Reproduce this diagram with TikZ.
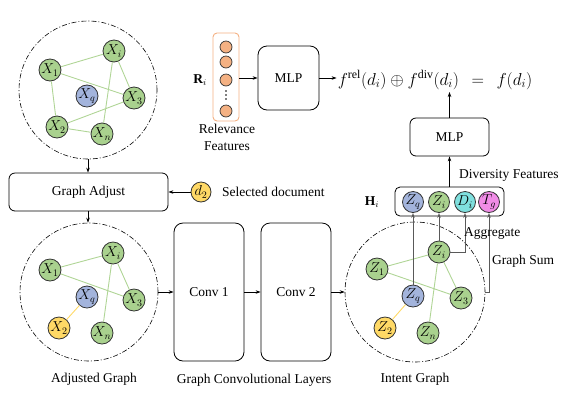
\documentclass[tikz,border=0pt]{standalone}
\usepackage{fontspec}
\setmainfont{Liberation Serif}
\usetikzlibrary{arrows.meta}
\definecolor{ngreen}{HTML}{A9D18E}
\definecolor{nblue}{HTML}{A3B4DC}
\definecolor{nyellow}{HTML}{FFD966}
\definecolor{ncyan}{HTML}{7FE0DE}
\definecolor{npink}{HTML}{F08CE6}
\definecolor{norange}{HTML}{F4B183}
\definecolor{lorange}{HTML}{F4B183}
\definecolor{egreen}{HTML}{B0D596}
\definecolor{eyellow}{HTML}{FFD966}
\definecolor{ngray}{HTML}{595959}
\begin{document}
\begin{tikzpicture}[x=1pt,y=-1pt,font=\fontsize{13.5}{16}\selectfont,
  gn/.style={circle,draw=black!80,line width=0.8pt,minimum size=22pt,inner sep=0pt,fill=ngreen,font=\fontsize{14}{16}\selectfont},
  qn/.style={gn,fill=nblue},
  yn/.style={gn,fill=nyellow},
  hn/.style={gn,minimum size=21pt},
  gedge/.style={draw=egreen,line width=0.9pt},
  yedge/.style={draw=eyellow,line width=0.9pt},
  arr/.style={-{Stealth[length=5pt,width=3.5pt]},line width=0.7pt},
  garr/.style={-{Stealth[length=5pt,width=3.5pt]},draw=ngray,line width=0.9pt},
  dcirc/.style={circle,draw,dash pattern=on 5pt off 2pt on 1pt off 2pt,line width=0.6pt,minimum size=138pt,inner sep=0pt},
  boxn/.style={draw,rounded corners=7pt,line width=0.8pt,inner sep=0pt},
  lab/.style={inner sep=1pt}]
\useasboundingbox (0,0) rectangle (588,400);

% ---------- top-left graph ----------
\node[dcirc] (g1) at (88,90) {};
\node[gn] (a1) at (50,70) {$X_1$};
\node[gn] (ai) at (114,51) {$X_i$};
\node[qn] (aq) at (87,96) {$X_q$};
\node[gn] (a3) at (134,98) {$X_3$};
\node[gn] (a2) at (57,127) {$X_2$};
\node[gn] (an) at (102,134) {$X_n$};
\path[gedge] (a1) -- (ai) (a1) -- (a3) (a1) -- (a2) (ai) -- (a3) (ai) -- (an) (a2) -- (a3) (a2) -- (an);

% ---------- graph adjust ----------
\node[boxn,rounded corners=6pt,minimum width=159pt,minimum height=38pt] (adj) at (88.5,192) {Graph Adjust};
\draw[arr] (g1.south) -- (adj.north -| g1.south);
\node[yn,minimum size=20pt] (d2) at (201,192) {$d_2$};
\draw[arr] (d2) -- (adj.east);
\node[lab,anchor=west] (sel) at (221,192) {Selected document};

% ---------- adjusted graph ----------
\node[dcirc] (g2) at (89,292) {};
\draw[arr] (adj.south -| g1.south) -- (g2.north -| g1.south);
\node[gn] (b1) at (50,270) {$X_1$};
\node[gn] (bi) at (113,253) {$X_i$};
\node[qn] (bq) at (87,297) {$X_q$};
\node[gn] (b3) at (134,300) {$X_3$};
\node[yn] (b2) at (59,328) {$X_2$};
\node[gn] (bn) at (102,333) {$X_n$};
\path[gedge] (b1) -- (bi) (b1) -- (b3) (bi) -- (b3) (bi) -- (bn);
\path[yedge] (bq) -- (b2);
\node[lab] (l1) at (94,379) {Adjusted Graph};

% ---------- conv layers ----------
\node[boxn,rounded corners=9pt,minimum width=70pt,minimum height=138pt] (c1) at (209,292) {Conv 1};
\node[boxn,rounded corners=9pt,minimum width=70pt,minimum height=138pt] (c2) at (296,292) {Conv 2};
\node[lab] (l2) at (254,380) {Graph Convolutional Layers};
\draw[arr] (g2.east) -- (c1.west);
\draw[arr] (c1.east) -- (c2.west);

% ---------- intent graph ----------
\node[dcirc,minimum size=140pt] (g3) at (415,292) {};
\draw[arr] (c2.east) -- (g3.west);
\node[gn] (z1) at (377,269) {$Z_1$};
\node[gn] (zi) at (439,252) {$Z_i$};
\node[qn] (zq) at (413,296) {$Z_q$};
\node[gn] (z3) at (461,298) {$Z_3$};
\node[yn] (z2) at (385,328) {$Z_2$};
\node[gn] (zn) at (428,333) {$Z_n$};
\path[gedge] (z1) -- (zi) (z1) -- (z3) (zi) -- (z3) (zi) -- (zn);
\path[yedge] (zq) -- (z2);
\node[lab] (l3) at (415,379) {Intent Graph};

% ---------- H_i ----------
\node[boxn,rounded corners=5pt,minimum width=109pt,minimum height=29pt] (H) at (449.5,201.5) {};
\node[hn,fill=nblue] (hq) at (413,202) {$Z_q$};
\node[hn] (hi) at (439,202) {$Z_i$};
\node[hn,fill=ncyan] (hd) at (465,202) {$D_i$};
\node[hn,fill=npink] (ht) at (489,202) {$T_g$};
\node[lab] (hl) at (372,202) {$\mathbf{H}_i$};
\draw[garr] (zq.north) -- (hq.south);
\draw[garr] (zi.north) -- (hi.south);
\draw[garr] (zi.east) -| (hd.south);
\draw[garr] (g3.east) -| (ht.south);
\node[lab,anchor=west] (agg) at (463,233) {Aggregate};
\node[lab,anchor=west] (gs) at (491,261) {Graph Sum};

% ---------- diversity MLP ----------
\node[boxn,rounded corners=6pt,minimum width=79pt,minimum height=38pt] (m2) at (449.5,137) {MLP};
\draw[arr] (H.north) -- (m2.south);
\node[lab,anchor=west] (df) at (458,175) {Diversity Features};
\node[inner sep=1pt,font=\fontsize{17}{20}\selectfont] (F) at (435,80) {$f^{\mathrm{rel}}(d_i)\oplus f^{\mathrm{div}}(d_i)\;\,=\;\,f(d_i)$};
\coordinate (Fin) at (449.5,92);
\draw[arr] (m2.north) -- (Fin);

% ---------- relevance ----------
\node[draw=lorange,line width=0.9pt,rounded corners=4pt,minimum width=26pt,minimum height=88pt,inner sep=0pt] (rb) at (226,77) {};
\foreach \n/\y in {r1/47,r2/62,r3/80,r4/111}
  \node[circle,draw=black!80,line width=0.7pt,fill=norange,minimum size=12pt,inner sep=0pt] (\n) at (226,\y) {};
\foreach \y in {91,95,99}
  \fill (226,\y) circle (0.9pt);
\node[lab] (rl) at (200,80) {$\mathbf{R}_i$};
\node[lab,align=center] (rf) at (227,137) {Relevance\\[1pt]Features};
\node[boxn,rounded corners=9pt,minimum width=61pt,minimum height=64pt] (m1) at (288.5,78) {MLP};
\draw[arr] (rb.east |- m1.west) -- (m1.west);
\draw[arr] (m1.east) -- (m1.east -| F.west);
\end{tikzpicture}
\end{document}
